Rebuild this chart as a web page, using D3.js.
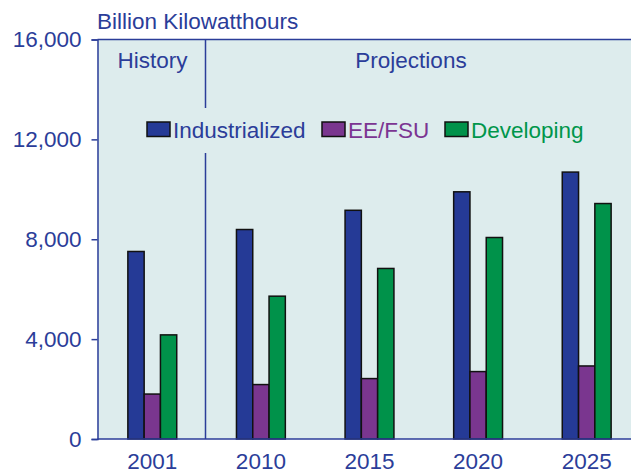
<!DOCTYPE html>
<html>
<head>
<meta charset="utf-8">
<script src="https://cdn.jsdelivr.net/npm/d3@7"></script>
<style>
  body { margin: 0; background: #fff; }
  text { font-family: Arial, "Liberation Sans", sans-serif; }
</style>
</head>
<body>
<div id="container"></div>
<script>
const years = ['2001', '2010', '2015', '2020', '2025'];
const seriesNames = ['Industrialized', 'EE/FSU', 'Developing'];
const industrialized = [7510, 8390, 9160, 9900, 10690];
const eeFsu = [1800, 2180, 2420, 2700, 2925];
const developing = [4170, 5720, 6830, 8070, 9430];
const yTicks = [0, 4000, 8000, 12000, 16000];

const seriesValues = [industrialized, eeFsu, developing];
const fills = ['#253a96', '#7a368f', '#00924a'];
const textFills = ['#2b3d99', '#7b3592', '#00964b'];
const ink = '#2b3d99';
const fontSize = 22.5;

const width = 631, height = 474;
const margin = { top: 39.5, left: 97.5, bottom: 35 };

const svg = d3.select('#container').append('svg')
  .attr('width', width)
  .attr('height', height);

const x = d3.scaleBand()
  .domain(years)
  .range([98, 641])
  .paddingInner(0.55)
  .paddingOuter(0.275);

const xInner = d3.scaleBand()
  .domain(seriesNames)
  .range([0, x.bandwidth()]);

const y = d3.scaleLinear()
  .domain([0, 16000])
  .range([439, 39.5]);

// plot background
svg.append('rect')
  .attr('x', margin.left)
  .attr('y', y(16000))
  .attr('width', width - margin.left)
  .attr('height', y(0) - y(16000))
  .attr('fill', '#ddeced');

// top border
svg.append('line')
  .attr('x1', margin.left).attr('x2', width)
  .attr('y1', y(16000)).attr('y2', y(16000))
  .attr('stroke', ink).attr('stroke-width', 1.5);

// history / projections divider
const divX = 205.5;
svg.append('line')
  .attr('x1', divX).attr('x2', divX)
  .attr('y1', y(16000)).attr('y2', 108)
  .attr('stroke', ink).attr('stroke-width', 1.5);
svg.append('line')
  .attr('x1', divX).attr('x2', divX)
  .attr('y1', 153).attr('y2', y(0))
  .attr('stroke', ink).attr('stroke-width', 1.5);

svg.append('text')
  .attr('x', 152.5).attr('y', 68)
  .attr('text-anchor', 'middle')
  .attr('font-size', fontSize)
  .attr('fill', ink)
  .text('History');

svg.append('text')
  .attr('x', 411).attr('y', 68)
  .attr('text-anchor', 'middle')
  .attr('font-size', fontSize)
  .attr('fill', ink)
  .text('Projections');

// bars
const groups = svg.append('g')
  .selectAll('g')
  .data(years)
  .enter()
  .append('g')
  .attr('transform', (d) => `translate(${x(d)},0)`);

groups.selectAll('rect')
  .data((d, i) => seriesNames.map((name, s) => ({ name, s, value: seriesValues[s][i] })))
  .enter()
  .append('rect')
  .attr('x', (d) => xInner(d.name))
  .attr('y', (d) => y(d.value))
  .attr('width', xInner.bandwidth())
  .attr('height', (d) => y(0) - y(d.value))
  .attr('fill', (d) => fills[d.s])
  .attr('stroke', '#111')
  .attr('stroke-width', 1.5);

// y axis
const yAxis = svg.append('g')
  .attr('transform', `translate(${margin.left},0)`)
  .call(d3.axisLeft(y).tickValues(yTicks).tickSize(6).tickPadding(10).tickFormat(d3.format(',')));
yAxis.select('.domain').attr('stroke', ink).attr('stroke-width', 1.5);
yAxis.selectAll('.tick line').attr('stroke', ink).attr('stroke-width', 1.5);
yAxis.selectAll('.tick text')
  .attr('fill', ink)
  .attr('font-size', fontSize)
  .attr('font-family', 'Arial, "Liberation Sans", sans-serif');

// x axis
const xAxis = svg.append('g')
  .attr('transform', `translate(0,${y(0)})`)
  .call(d3.axisBottom(x).tickSize(0).tickPadding(14));
xAxis.select('.domain')
  .attr('d', `M${margin.left},0H${width}`)
  .attr('stroke', ink).attr('stroke-width', 1.5);
xAxis.selectAll('.tick text')
  .attr('fill', ink)
  .attr('font-size', fontSize)
  .attr('font-family', 'Arial, "Liberation Sans", sans-serif');

// unit label
svg.append('text')
  .attr('x', 97).attr('y', 29)
  .attr('font-size', fontSize)
  .attr('fill', ink)
  .text('Billion Kilowatthours');

// legend
const legendX = [147, 322, 445];
const legend = svg.append('g')
  .selectAll('g')
  .data(seriesNames)
  .enter()
  .append('g')
  .attr('transform', (d, i) => `translate(${legendX[i]},122)`);

legend.append('rect')
  .attr('width', 23)
  .attr('height', 14.5)
  .attr('fill', (d, i) => fills[i])
  .attr('stroke', '#111')
  .attr('stroke-width', 1.5);

legend.append('text')
  .attr('x', 26)
  .attr('y', 16)
  .attr('font-size', fontSize)
  .attr('fill', (d, i) => textFills[i])
  .text((d) => d);
</script>
</body>
</html>
